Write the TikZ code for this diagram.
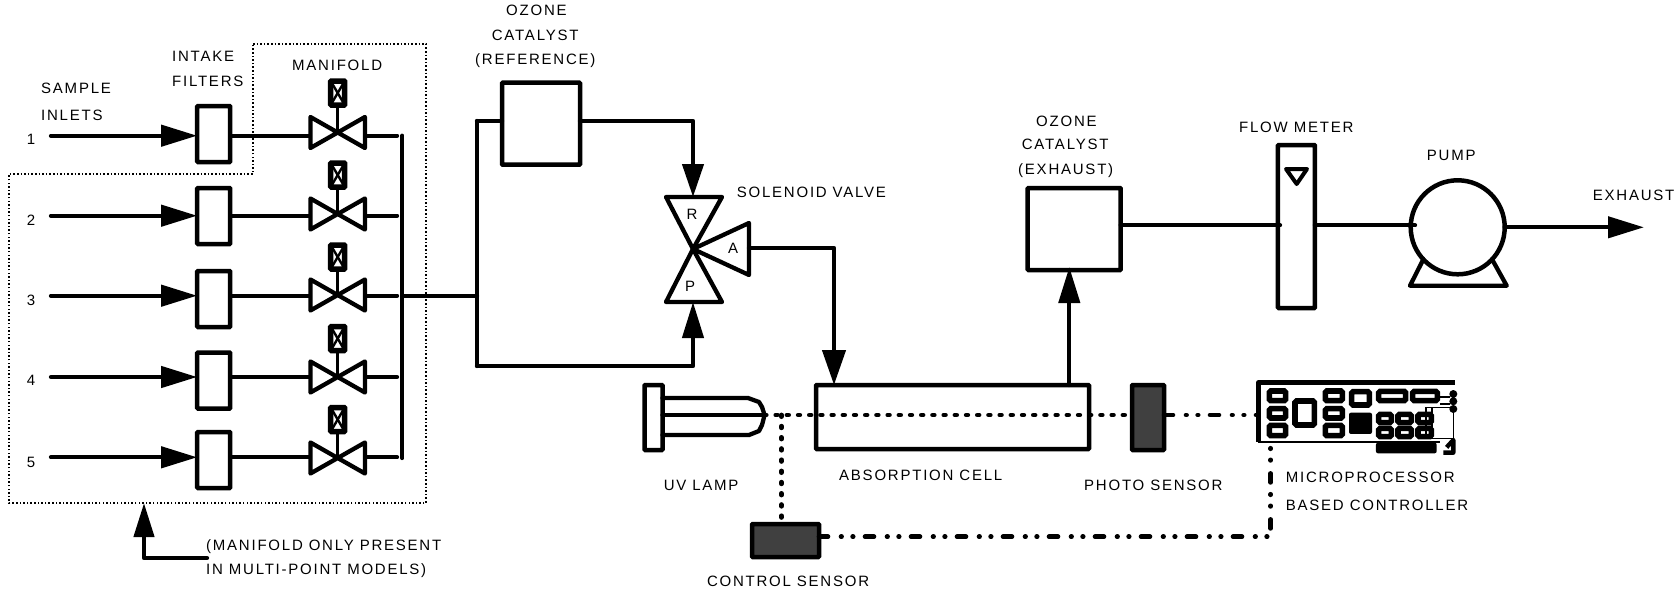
\documentclass[tikz,border=0pt]{standalone}
\usepackage{fontspec}
\setmainfont{Liberation Sans}
\newfontfamily\labelfont[LetterSpace=11.8]{Liberation Sans}
\usetikzlibrary{arrows.meta, calc}
\tikzset{
  pipe/.style={line width=4.3pt, line join=round, line cap=round},
  flow/.style={pipe, -{Triangle[length=36pt,width=21pt]}},
  box/.style={rectangle, draw, line width=4.5pt, outer sep=0pt, inner sep=0pt, rounded corners=0.8pt, fill=white},
  sensor/.style={box, fill=black!75},
  lbl/.style={anchor=base west, inner sep=0pt, font=\labelfont\fontsize{15}{18}\selectfont},
  num/.style={anchor=base, inner sep=0pt, font=\fontsize{15}{18}\selectfont},
  frame/.style={line width=1.6pt, dash pattern=on 1.5pt off 2.1pt},
  beam/.style={line width=4.8pt, line cap=round, dash pattern=on 1.6pt off 9.6pt},
  signal/.style={line width=4.6pt, line cap=round, dash pattern=on 9pt off 13pt on 0.6pt off 11pt on 0.6pt off 11.8pt},
  chip/.style={draw, fill=white, line width=5.6pt, rounded corners=1.5pt},
}

\begin{document}
\begin{tikzpicture}[x=1pt, y=-1pt]
  \useasboundingbox (0,0) rectangle (1674,589);

  % Manifold outline
  \draw[frame] (253,44) -- (426,44) -- (426,503) -- (9,503) -- (9,174) -- (253,174) -- cycle;

  % Inlet rows: number, line, filter, valve, actuator, label
  \coordinate (busgap) at (397,0);
  \foreach \i/\yline/\yfilter/\yvalve/\yact/\ynum in {
      1/135.7/134/132.5/93/144,
      2/215.7/216/214/175/225,
      3/295.7/299/295/257/305,
      4/377/380.5/377/338.5/385,
      5/457.3/460/458/419.5/467} {
    \coordinate (inlet\i) at (51,\yline);
    \node[num] (num\i) at (31,\ynum) {\i};
    \node[box, minimum width=33pt, minimum height=56pt] (filter\i) at (213.7,\yfilter) {};
    \node[minimum width=54.5pt, minimum height=31pt, inner sep=0pt, outer sep=0pt] (valve\i) at (337.7,\yvalve) {};
    \node[box, minimum width=14pt, minimum height=24pt, line width=5.5pt] (act\i) at (337.7,\yact) {};
    \draw[flow] (inlet\i) -- (inlet\i -| filter\i.west);
    \draw[pipe] (inlet\i -| filter\i.east) -- (inlet\i -| valve\i.west);
    \draw[pipe] (inlet\i -| valve\i.east) -- (inlet\i -| busgap);
    \draw[pipe, fill=white] (valve\i.north west) -- (valve\i.south west) -- (valve\i.north east) -- (valve\i.south east) -- cycle;
    \draw[line width=3.4pt] (act\i.south) -- (valve\i.center);
    \draw[line width=2.4pt] (act\i.north west) -- (act\i.south east);
    \draw[line width=2.4pt] (act\i.north east) -- (act\i.south west);
  }

  % Common bus and split to the solenoid valve
  \coordinate (bustop) at (402.3,135.7);
  \coordinate (busbottom) at (402.3,458);
  \coordinate (busmid) at (402.3,295.7);
  \coordinate (refin) at (477,121);
  \coordinate (bypass) at (477,366);
  \draw[pipe] (bustop) -- (busbottom);
  \draw[pipe] (busmid) -- (busmid -| refin);
  \draw[pipe] (refin) -- (bypass);

  \node[box, minimum width=78pt, minimum height=82pt] (catref) at (541,123.7) {};
  \draw[pipe] (refin) -- (refin -| catref.west);

  % Solenoid valve
  \coordinate (solcentre) at (693,249);
  \coordinate (solr) at (693,197);
  \coordinate (solp) at (693,302);
  \coordinate (sola) at (749,248);
  \draw[pipe] (666,197) -- (722,197) -- (solcentre) -- cycle;
  \draw[pipe] (666,302) -- (722,302) -- (solcentre) -- cycle;
  \draw[pipe] (749,223) -- (749,275) -- (solcentre) -- cycle;
  \node[num] (portr) at (692,219.5) {R};
  \node[num] (portp) at (690,291.5) {P};
  \node[num] (porta) at (733,253.5) {A};
  \draw[flow, -{Triangle[length=33pt,width=21pt]}] (refin -| catref.east) -| (solr);
  \draw[flow] (bypass) -| (solp);

  % Absorption cell and lamp
  \node[box, minimum width=273pt, minimum height=64pt] (cell) at (952.5,417) {};
  \coordinate (cellin) at (834,385);
  \coordinate (cellout) at (1069.3,385);
  \draw[flow, -{Triangle[length=35pt,width=23pt]}] (sola) -| (cellin);

  \node[box, minimum width=93pt, minimum height=82pt] (catexh) at (1074.2,229) {};
  \coordinate (catexhin) at (1069.3,267);
  \draw[flow] (cellout) -- (catexhin);

  \node[box, minimum width=18pt, minimum height=65pt] (flange) at (653.5,417.5) {};
  \coordinate (beamstart) at (764.6,415);
  \draw[pipe] (flange.east |- 0,398) -- (748,398) -- (759,402) -- (762,407) -- (beamstart) -- (762,425) -- (759,431) -- (749,435) -- (flange.east |- 0,435);
  \draw[pipe] (flange.east |- beamstart) -- (beamstart);

  % Sensors and controller
  \node[sensor, minimum width=32pt, minimum height=65pt] (photo) at (1148,417.5) {};
  \node[sensor, minimum width=67pt, minimum height=33pt] (control) at (785.5,540.5) {};
  \node[minimum width=197pt, minimum height=59pt, inner sep=0pt, outer sep=0pt] (card) at (1356.5,412) {};
  \coordinate (beamdrop) at (781.4,415);
  \coordinate (cardin) at (1258,415);
  \coordinate (cardout) at (1270.7,442);
  \coordinate (cardturn) at (1270.7,536.7);
  \draw[beam] (beamstart) -- (beamstart -| photo.west);
  \draw[beam] (beamdrop) -- (beamdrop |- control.north);
  \draw[signal] (beamstart -| photo.east) -- (cardin);
  \draw[signal] (cardturn -| control.east) -- (cardturn) -- (cardout);

  % Controller board
  \begin{scope}[shift={(1240,360)}, x=0.3333pt, y=-0.3333pt]
    \draw[line width=4.4pt, line join=round] (55,245) -- (55,68) -- (645,68);
    \draw[line width=1.8pt] (55,245) -- (600,245);
    \foreach \xa/\xb in {80/145, 248/315} {
      \foreach \ya/\yb in {85/130, 138/182, 188/235} {
        \draw[chip] (\xa+8,\ya+8) rectangle (\xb-8,\yb-8);
      }
    }
    \draw[chip] (165,123) rectangle (223,195);
    \draw[chip] (335,95) rectangle (388,135);
    \fill[rounded corners=2pt] (327,158) rectangle (396,222);
    \draw[chip] (416,94) rectangle (497,122);
    \draw[chip] (518,94) rectangle (592,122);
    \foreach \xa/\xb in {408/462, 466/522, 526/582} {
      \foreach \ya/\yb in {155/196, 197/238} {
        \draw[chip] (\xa+8,\ya+8) rectangle (\xb-8,\yb-8);
      }
    }
    \fill[rounded corners=2pt] (408,248) rectangle (590,280);
    \draw[line width=1.3pt] (558,143) rectangle (640,235);
    \draw[line width=2pt] (575,143) -- (575,235);
    \draw[line width=2pt] (600,110) -- (630,110) (600,132) -- (630,132);
    \fill (640,102) circle[radius=12] (640,124) circle[radius=12] (640,147) circle[radius=12];
    \draw[line width=4.4pt, line join=round] (610,278) -- (640,278) -- (640,240) -- (620,262);
  \end{scope}

  % Meter, pump and exhaust
  \node[box, minimum width=37pt, minimum height=163pt] (meter) at (1296.4,226.5) {};
  \coordinate (floatl) at (1286,169);
  \coordinate (floatr) at (1307,169);
  \coordinate (floatb) at (1296.7,184);
  \draw[line width=4pt, line join=round] (floatl) -- (floatr) -- (floatb) -- cycle;
  \coordinate (meterin) at (1280,225.3);
  \coordinate (pumpin) at (1415,225.3);
  \node[box, circle, minimum size=94pt] (pump) at (1457.7,227.3) {};
  \draw[pipe] (meterin -| catexh.east) -- (meterin);
  \draw[pipe] (meterin -| meter.east) -- (pumpin);
  \coordinate (baseleft) at (1410,285.7);
  \coordinate (baseright) at (1506.7,285.7);
  \draw[pipe] (pump.223) -- (baseleft) -- (baseright) -- (pump.317);
  \coordinate (exhaustend) at (1644,227.3);
  \draw[flow] (pump.east) -- (exhaustend);

  % Note arrow under the manifold
  \coordinate (noteend) at (207,558);
  \coordinate (notetip) at (144,503);
  \draw[flow, -{Triangle[length=34pt,width=20pt]}] (noteend) -| (notetip);

  % Labels
  \node[lbl] (lblsample) at (41,93) {SAMPLE};
  \node[lbl] (lblinlets) at (41,120) {INLETS};
  \node[lbl] (lblintake) at (172,61) {INTAKE};
  \node[lbl] (lblfilters) at (172,86.7) {FILTERS};
  \node[lbl] (lblmanifold) at (292,70) {MANIFOLD};
  \node[lbl] (lblozonea) at (506,16) {OZONE};
  \node[lbl] (lblcatalysta) at (491.7,40) {CATALYST};
  \node[lbl] (lblreference) at (475,64) {(REFERENCE)};
  \node[lbl] (lblsolenoid) at (736.7,197.7) {SOLENOID VALVE};
  \node[lbl] (lblozoneb) at (1036,126) {OZONE};
  \node[lbl] (lblcatalystb) at (1021.7,149.3) {CATALYST};
  \node[lbl] (lblexhaustcat) at (1018,174.7) {(EXHAUST)};
  \node[lbl] (lblflow) at (1239,132.7) {FLOW METER};
  \node[lbl] (lblpump) at (1426.7,160) {PUMP};
  \node[lbl] (lblexhaust) at (1592.7,200) {EXHAUST};
  \node[lbl] (lbllamp) at (663.6,490.7) {UV LAMP};
  \node[lbl] (lblcell) at (839,480.7) {ABSORPTION CELL};
  \node[lbl] (lblphoto) at (1084,490.7) {PHOTO SENSOR};
  \node[lbl] (lblcontrol) at (706.8,586.7) {CONTROL SENSOR};
  \node[lbl] (lblmicro) at (1285.7,482.7) {MICROPROCESSOR};
  \node[lbl] (lblbased) at (1285.7,510) {BASED CONTROLLER};
  \node[lbl] (lblnotea) at (206,550) {(MANIFOLD ONLY PRESENT};
  \node[lbl] (lblnoteb) at (206,574) {IN MULTI-POINT MODELS)};
\end{tikzpicture}
\end{document}
